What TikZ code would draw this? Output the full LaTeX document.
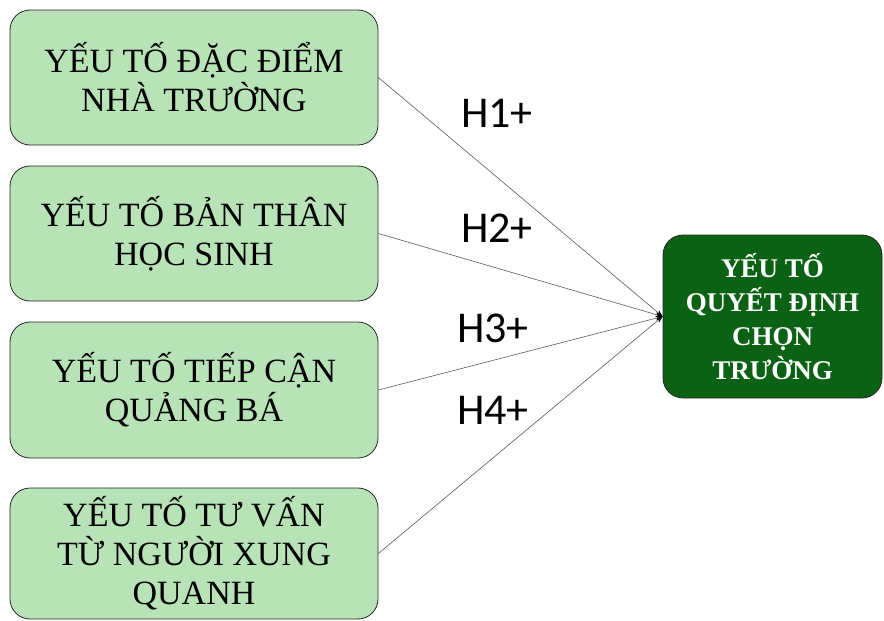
\documentclass[tikz,border=0pt]{standalone}
\usepackage{fontspec}
\setmainfont{Liberation Serif}
\newfontfamily\hlabelfont{Carlito}
\usetikzlibrary{arrows.meta}

\definecolor{boxgreen}{RGB}{183,227,183}
\definecolor{darkgreen}{RGB}{12,98,20}

\begin{document}
\begin{tikzpicture}[x=1pt, y=-1pt, >={Stealth[length=7pt,width=5pt,black]},
    factor/.style={draw=black!85, fill=boxgreen, rounded corners=20pt,
                   minimum width=368pt, align=center, line width=0.8pt,
                   font=\fontsize{34}{39}\selectfont},
    outcome/.style={draw=black!85, fill=darkgreen, text=white, rounded corners=20pt,
                    minimum width=219pt, minimum height=163pt, align=center,
                    line width=0.8pt, font=\bfseries\fontsize{27}{34}\selectfont},
    hyp/.style={font=\hlabelfont\fontsize{44}{44}\selectfont}]
  \useasboundingbox (0,0) rectangle (884,621);
  % left side: the four factors
  \node[factor, minimum height=135pt] (f1) at (194,77.5) {YẾU TỐ ĐẶC ĐIỂM\\NHÀ TRƯỜNG};
  \node[factor, minimum height=135pt] (f2) at (194,233.5) {YẾU TỐ BẢN THÂN\\HỌC SINH};
  \node[factor, minimum height=136pt] (f3) at (194,390) {YẾU TỐ TIẾP CẬN\\QUẢNG BÁ};
  \node[factor, minimum height=131pt] (f4) at (194,553.5) {YẾU TỐ TƯ VẤN\\TỪ NGƯỜI XUNG\\QUANH};
  % right side: the outcome
  \node[outcome] (choice) at (772.5,316.5) {YẾU TỐ\\QUYẾT ĐỊNH\\CHỌN\\TRƯỜNG};
  % hypotheses
  \foreach \i in {1,...,4} {
    \draw[->, black!65, line width=0.6pt] (f\i.east) -- (choice.west);
  }
  \node[hyp] (h1) at (497,113) {H1+};
  \node[hyp] (h2) at (497,228) {H2+};
  \node[hyp] (h3) at (493,328) {H3+};
  \node[hyp] (h4) at (493,410) {H4+};
\end{tikzpicture}
\end{document}
